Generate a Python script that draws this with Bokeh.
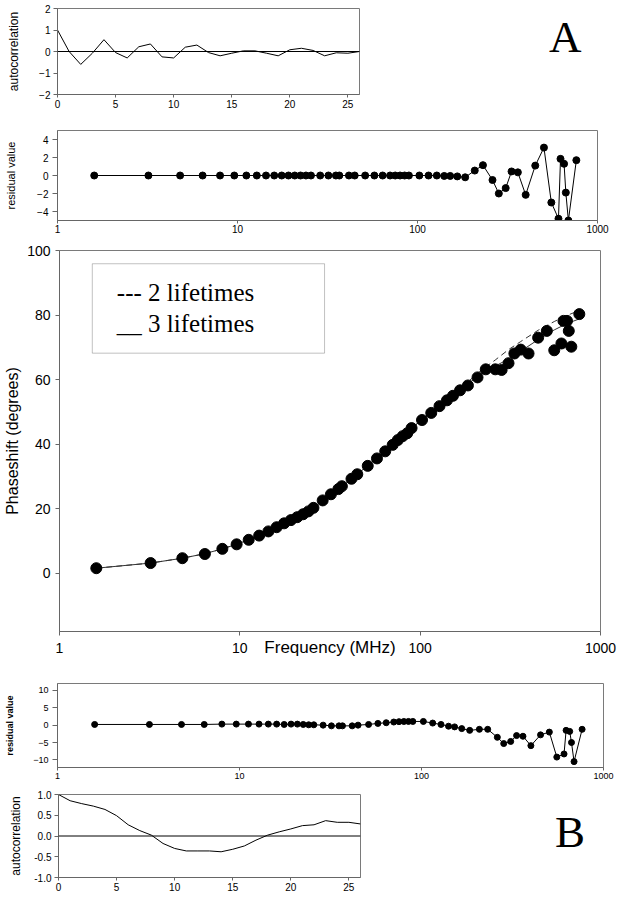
from bokeh.plotting import figure
from bokeh.layouts import column, row
from bokeh.models import (FixedTicker, Span, NumeralTickFormatter, Div,
                          BasicTickFormatter, Range1d, BoxAnnotation, Label)
from bokeh.embed import file_html
from bokeh.resources import INLINE

# ---------------- data ----------------
freq_mhz = [1.6, 3.2, 4.8, 6.4, 8.0, 9.6, 11.2, 12.8, 14.4, 16.0, 17.6, 19.2,
            20.8, 22.4, 24.0, 25.6, 28.8, 32.0, 35.2, 36.8, 41.6, 44.8, 51.2,
            57.6, 64.0, 70.4, 75.2, 80.0, 84.8, 89.6, 102.4, 115.2, 128.0,
            140.8, 152.0, 166.4, 184.0, 208.0, 231.0, 261.0, 283.0, 309.0,
            333.0, 361.0, 399.0, 451.0, 504.0, 554.0, 607.0, 623.0, 652.0,
            667.0, 689.0, 763.0]
phase_deg = [1.6, 3.2, 4.7, 6.0, 7.6, 9.0, 10.4, 11.7, 13.0, 14.3, 15.5, 16.5,
             17.4, 18.3, 19.2, 20.3, 22.6, 24.5, 26.1, 27.0, 29.3, 30.7, 33.3,
             35.6, 37.8, 39.8, 41.3, 42.5, 43.4, 45.0, 47.5, 49.7, 51.8,
             53.6, 55.0, 56.7, 58.2, 60.7, 63.2, 63.2, 63.0, 65.1,
             68.1, 69.3, 68.1, 73.0, 75.1, 69.1, 71.2, 78.2, 78.2,
             75.1, 70.2, 80.3]
resid_a = [0.0, 0.0, 0.0, 0.0, 0.0, 0.0, 0.0, 0.0, 0.0, 0.0, 0.0, 0.0,
           0.0, 0.0, 0.0, 0.0, 0.0, 0.0, 0.0, 0.0, 0.0, 0.0, 0.0,
           0.0, 0.0, 0.0, 0.0, 0.0, 0.0, 0.0, 0.0, 0.0, 0.0,
           -0.05, -0.05, -0.1, -0.2, 0.55, 1.15, -0.5, -2.0, -1.4,
           0.45, 0.35, -2.15, 1.1, 3.1, -3.0, -4.8, 1.85, 1.3,
           -1.9, -5.0, 1.7]
resid_b = [0.2, 0.2, 0.2, 0.2, 0.3, 0.3, 0.3, 0.3, 0.3, 0.3, 0.2, 0.3,
           0.3, 0.2, 0.1, 0.1, 0.0, -0.2, -0.2, -0.2, -0.2, 0.0, 0.2,
           0.5, 0.7, 0.9, 1.0, 1.05, 1.07, 1.07, 1.07, 0.6, 0.2,
           -0.3, -0.5, -1.0, -1.5, -1.2, -1.2, -3.5, -5.3, -4.7,
           -3.0, -3.2, -5.9, -2.8, -2.0, -9.2, -8.3, -1.5, -1.8,
           -5.0, -10.5, -1.2]

fit_freq = [1.6, 3.2, 4.8, 6.4, 8.0, 9.6, 12.8, 16.0, 20.8, 25.6, 32.0, 41.6,
            51.2, 64.0, 80.0, 102.4, 128.0, 166.4, 208.0, 231.0, 261.0,
            309.0, 361.0, 451.0, 554.0, 652.0, 763.0]
fit3_deg = [1.6, 3.2, 4.7, 6.1, 7.6, 9.0, 11.7, 14.2, 17.4, 20.4, 24.4, 29.2,
            33.4, 37.9, 42.7, 47.6, 51.8, 56.8, 61.0, 62.6, 64.2,
            66.4, 68.8, 72.4, 75.4, 77.4, 78.8]
fit2_deg = [1.6, 3.2, 4.7, 6.1, 7.6, 9.0, 11.7, 14.2, 17.4, 20.4, 24.4, 29.2,
            33.4, 37.9, 42.7, 47.6, 51.9, 57.2, 61.9, 63.9, 66.1,
            69.3, 71.8, 75.3, 78.0, 79.9, 81.4]

lags = list(range(27))
acf_a = [1.0, 0.0, -0.6, -0.08, 0.55, -0.05, -0.3, 0.22, 0.35, -0.25, -0.3,
         0.2, 0.3, -0.05, -0.2, -0.08, 0.03, 0.03, -0.08, -0.2, 0.08, 0.15,
         0.05, -0.2, -0.06, -0.08, 0.0]
acf_b = [1.0, 0.85, 0.78, 0.72, 0.64, 0.49, 0.27, 0.13, 0.02, -0.18, -0.30,
         -0.36, -0.36, -0.36, -0.38, -0.32, -0.24, -0.10, 0.02, 0.10, 0.17,
         0.25, 0.27, 0.37, 0.33, 0.33, 0.29]

log_ticks = [1, 10, 100, 1000]
acf_ticks = [0, 5, 10, 15, 20, 25]

SANS = "Liberation Sans"
SERIF = "Liberation Serif"
W = 620
WS = 408   # width of the two small autocorrelation figures


def make_fig(width, height, top, bottom, left, right, **kw):
    p = figure(width=width, height=height, output_backend="svg",
               toolbar_location=None, min_border=0, min_border_top=top,
               min_border_bottom=bottom, min_border_left=left,
               min_border_right=right, frame_align=False, margin=0, **kw)
    p.xgrid.visible = False
    p.ygrid.visible = False
    p.outline_line_color = "#7a7a7a"
    p.background_fill_color = "white"
    p.border_fill_color = "white"
    for ax in p.axis:
        ax.axis_line_color = "#666666"
        ax.major_tick_line_color = "#666666"
        ax.minor_tick_line_color = None
        ax.major_tick_in = 0
        ax.major_tick_out = 4
        ax.major_label_text_font = SANS
        ax.axis_label_text_font = SANS
        ax.axis_label_text_font_style = "normal"
        ax.axis_label_text_color = "black"
        ax.major_label_text_color = "black"
    return p


def tick_style(ax, size, tick_out, standoff):
    ax.major_label_text_font_size = size
    ax.major_tick_out = tick_out
    ax.major_label_standoff = standoff


def letter_div(letter, left, top, width, height):
    html = ('<div style="position:absolute; left:%dpx; top:%dpx; '
            'font-family:\'Liberation Serif\'; font-size:45px; line-height:44px; '
            'color:black;">%s</div>' % (left, top, letter))
    return Div(text=html, width=width, height=height, margin=0,
               styles={"position": "relative"})


# ---------------- panel A: autocorrelation ----------------
p1 = make_fig(WS, 122, 8, 28, 57, 49, x_range=Range1d(0, 26), y_range=Range1d(-2, 2))
p1.line(lags, acf_a, line_color="black", line_width=1)
p1.add_layout(Span(location=0, dimension="width", line_color="black", line_width=1))
p1.xaxis.ticker = FixedTicker(ticks=acf_ticks)
p1.yaxis.ticker = FixedTicker(ticks=[-2, -1, 0, 1, 2])
tick_style(p1.xaxis[0], "10px", 3, 2)
tick_style(p1.yaxis[0], "10px", 4, 3)
p1.yaxis.axis_label = "autocorrelation"
p1.yaxis.axis_label_text_font_size = "12px"
p1.yaxis.axis_label_standoff = 15
div_a = letter_div("A", 141, 15, W - WS, 122)

# ---------------- panel A: residuals ----------------
p2 = make_fig(W, 118, 8, 20, 57, 23, x_axis_type="log",
              x_range=Range1d(1, 1000), y_range=Range1d(-5, 5))
p2.line(freq_mhz, resid_a, line_color="black", line_width=1)
p2.scatter(freq_mhz, resid_a, size=7, color="black")
p2.xaxis.ticker = FixedTicker(ticks=log_ticks)
p2.xaxis.formatter = BasicTickFormatter()
p2.yaxis.ticker = FixedTicker(ticks=[-4, -2, 0, 2, 4])
tick_style(p2.xaxis[0], "10px", 3, 1)
tick_style(p2.yaxis[0], "10px", 5, 4)
p2.yaxis.axis_label = "residual value"
p2.yaxis.axis_label_text_font_size = "11px"
p2.yaxis.axis_label_standoff = 17

# ---------------- main: phase shift ----------------
p3 = make_fig(W, 430, 10, 39, 59, 20, x_axis_type="log",
              x_range=Range1d(1, 1000), y_range=Range1d(-18, 100))
p3.line(fit_freq, fit2_deg, line_color="#333333", line_width=1, line_dash="6 4")
p3.line(fit_freq, fit3_deg, line_color="#333333", line_width=1)
p3.scatter(freq_mhz, phase_deg, size=11, color="black")
p3.xaxis.ticker = FixedTicker(ticks=log_ticks)
p3.xaxis.formatter = BasicTickFormatter()
p3.yaxis.ticker = FixedTicker(ticks=[0, 20, 40, 60, 80, 100])
tick_style(p3.xaxis[0], "14px", 4, 7)
tick_style(p3.yaxis[0], "14px", 4, 5)
p3.xaxis.axis_label = "Frequency (MHz)"
p3.xaxis.axis_label_text_font_size = "17px"
p3.xaxis.axis_label_standoff = -18
p3.yaxis.axis_label = "Phaseshift (degrees)"
p3.yaxis.axis_label_text_font_size = "16px"
p3.yaxis.axis_label_standoff = 3
p3.add_layout(BoxAnnotation(left=1.52, right=29.5, bottom=68.2, top=95.9,
                            fill_color="white", fill_alpha=1.0,
                            line_color="#333333", line_width=1))
p3.add_layout(Label(x=2.08, y=87.0, text="--- 2 lifetimes", text_font=SERIF,
                    text_font_size="25px", text_baseline="middle",
                    text_color="black"))
p3.add_layout(Label(x=2.08, y=77.5, text="__ 3 lifetimes", text_font=SERIF,
                    text_font_size="25px", text_baseline="middle",
                    text_color="black"))

# ---------------- panel B: residuals ----------------
p4 = make_fig(W, 113, 13, 16, 57, 17, x_axis_type="log",
              x_range=Range1d(1, 1000), y_range=Range1d(-12.2, 12))
p4.line(freq_mhz, resid_b, line_color="black", line_width=1)
p4.scatter(freq_mhz, resid_b, size=6, color="black")
p4.xaxis.ticker = FixedTicker(ticks=log_ticks)
p4.xaxis.formatter = BasicTickFormatter()
p4.yaxis.ticker = FixedTicker(ticks=[-10, -5, 0, 5, 10])
tick_style(p4.xaxis[0], "9px", 3, 2)
tick_style(p4.yaxis[0], "9px", 5, 4)
p4.yaxis.axis_label = "residual value"
p4.yaxis.axis_label_text_font_size = "9px"
p4.yaxis.axis_label_text_font_style = "bold"
p4.yaxis.axis_label_standoff = 15

# ---------------- panel B: autocorrelation ----------------
p5 = make_fig(WS, 116, 11, 22, 58, 48, x_range=Range1d(0, 26), y_range=Range1d(-1, 1))
p5.line(lags, acf_b, line_color="black", line_width=1)
p5.add_layout(Span(location=0, dimension="width", line_color="black", line_width=1))
p5.xaxis.ticker = FixedTicker(ticks=acf_ticks)
p5.yaxis.ticker = FixedTicker(ticks=[-1.0, -0.5, 0.0, 0.5, 1.0])
p5.yaxis.formatter = NumeralTickFormatter(format="0.0")
tick_style(p5.xaxis[0], "10px", 3, 2)
tick_style(p5.yaxis[0], "10px", 4, 3)
p5.yaxis.axis_label = "autocorrelation"
p5.yaxis.axis_label_text_font_size = "12px"
p5.yaxis.axis_label_standoff = 8
div_b = letter_div("B", 147, 27, W - WS, 116)

layout = column(row(p1, div_a, spacing=0), p2, p3, p4,
                row(p5, div_b, spacing=0), spacing=0)
open("out.html", "w").write(file_html(layout, INLINE))
